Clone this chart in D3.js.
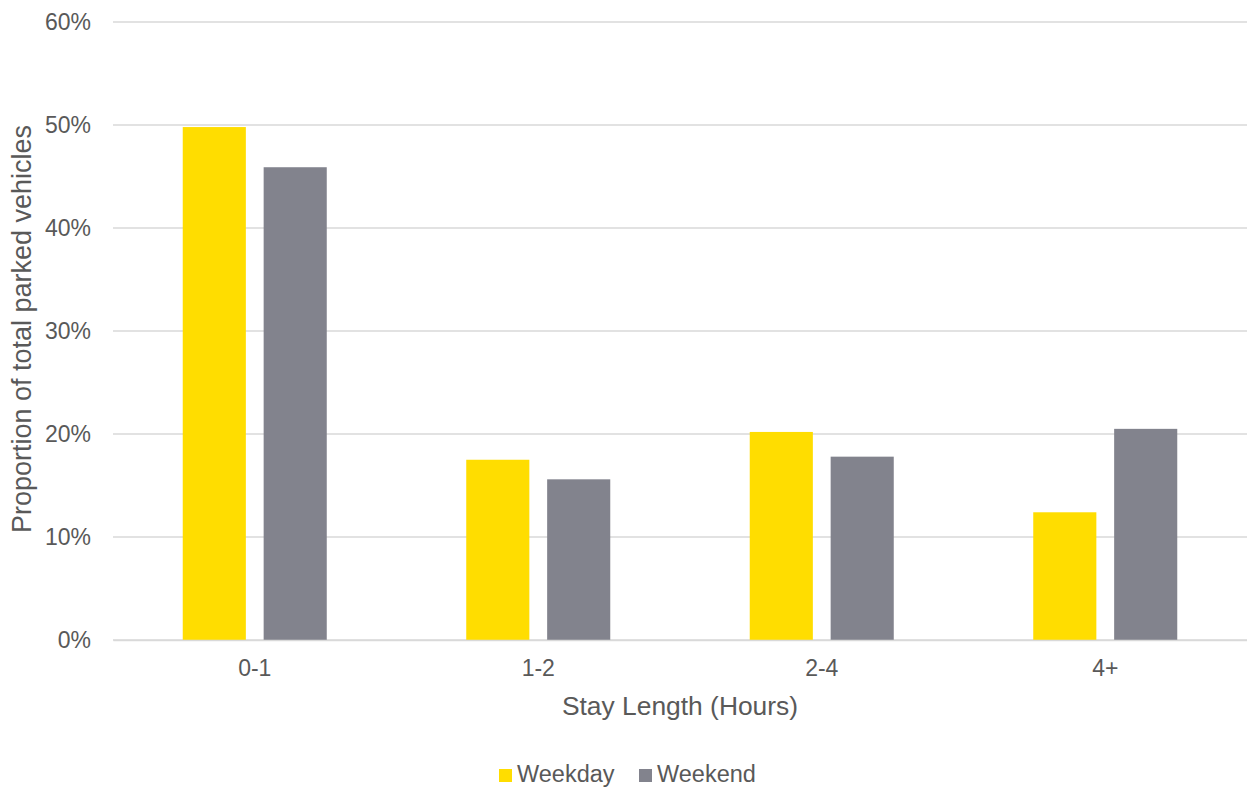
<!DOCTYPE html>
<html><head><meta charset="utf-8">
<script src="https://cdn.jsdelivr.net/npm/d3@7"></script>
<style>body{margin:0;background:#fff}svg{display:block;font-family:"Liberation Sans",Arial,sans-serif}</style>
</head><body>
<svg id="c" width="1247" height="789"></svg>
<script>
const categories = ["0-1","1-2","2-4","4+"];
const seriesNames = ["Weekday","Weekend"];
const weekday = [0.498,0.175,0.202,0.124];
const weekend = [0.459,0.156,0.178,0.205];
const yTicks = [0,0.1,0.2,0.3,0.4,0.5,0.6];
const colors = ["#FFDD00","#82838D"];

const svg = d3.select("#c");
const m = {left:113, right:1247, top:22, bottom:640};
const x0 = d3.scaleBand().domain(categories).range([m.left,m.right]).paddingInner(0.492).paddingOuter(0.246);
const x1 = d3.scaleBand().domain(seriesNames).range([0,x0.bandwidth()]).paddingInner(0.22).paddingOuter(0);
const y = d3.scaleLinear().domain([0,0.6]).range([m.bottom,m.top]);

// grid
svg.append("g").selectAll("line").data(yTicks).join("line")
  .attr("x1",m.left).attr("x2",m.right)
  .attr("y1",d=>y(d)).attr("y2",d=>y(d))
  .attr("stroke","#d9d9d9").attr("stroke-width",1.5);

const yAxis = svg.append("g").attr("transform",`translate(${m.left},0)`)
  .call(d3.axisLeft(y).tickValues(yTicks).tickFormat(d3.format(".0%")).tickSize(0).tickPadding(22));
yAxis.select(".domain").remove();
yAxis.selectAll("text").attr("font-size",23).attr("fill","#595959").attr("font-family","Liberation Sans, Arial, sans-serif");

const data = categories.map((c,i)=>({c, vals:[weekday[i],weekend[i]]}));
const g = svg.append("g").selectAll("g").data(data).join("g").attr("transform",d=>`translate(${x0(d.c)},0)`);
g.selectAll("rect").data(d=>d.vals.map((v,j)=>({k:seriesNames[j],v,j}))).join("rect")
  .attr("x",d=>x1(d.k)).attr("width",x1.bandwidth())
  .attr("y",d=>y(d.v)).attr("height",d=>y(0)-y(d.v))
  .attr("fill",d=>colors[d.j]);

const xAxis = svg.append("g").attr("transform",`translate(0,${m.bottom})`)
  .call(d3.axisBottom(x0).tickSize(0).tickPadding(20));
xAxis.select(".domain").attr("stroke","#d9d9d9").attr("stroke-width",1.5);
xAxis.selectAll("text").attr("font-size",23).attr("fill","#595959").attr("font-family","Liberation Sans, Arial, sans-serif");

svg.append("text").attr("x",(m.left+m.right)/2).attr("y",715).attr("text-anchor","middle")
  .attr("font-size",26.4).attr("fill","#595959").text("Stay Length (Hours)");
svg.append("text").attr("transform",`translate(31,329) rotate(-90)`).attr("text-anchor","middle")
  .attr("font-size",27).attr("fill","#595959").text("Proportion of total parked vehicles");

// legend
const lg = svg.append("g");
const legX = [499,639];
seriesNames.forEach((s,i)=>{
  lg.append("rect").attr("x",legX[i]).attr("y",769).attr("width",13).attr("height",13).attr("fill",colors[i]);
  lg.append("text").attr("x",legX[i]+18).attr("y",782).attr("font-size",23.5).attr("fill","#595959").text(s);
});
</script>
</body></html>
